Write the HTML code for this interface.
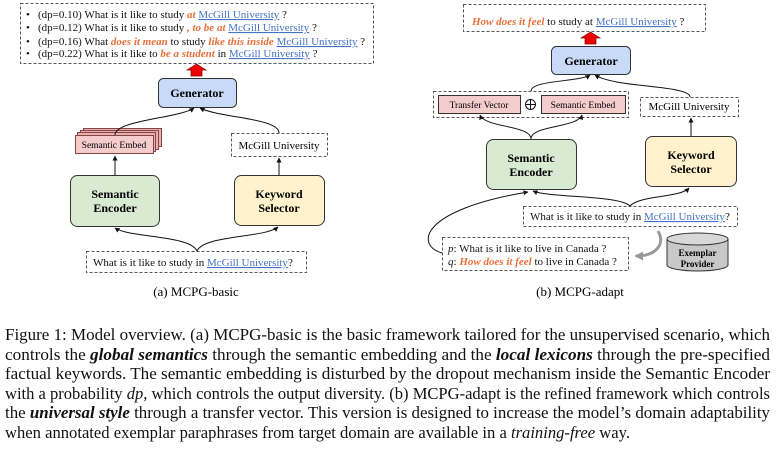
<!DOCTYPE html>
<html><head><meta charset="utf-8"><style>
html,body{margin:0;padding:0;background:#fff;}
svg{display:block;font-family:"Liberation Serif",serif;}
.b{font-weight:bold;}
.o{fill:#e8703a;font-weight:bold;font-style:italic;}
.u{fill:#4472c4;text-decoration:underline;}
</style></head><body>
<svg width="776" height="449" viewBox="0 0 776 449" xmlns="http://www.w3.org/2000/svg">
<defs>
<marker id="ah" viewBox="0 0 10 10" refX="9" refY="5" markerWidth="5" markerHeight="5" orient="auto-start-reverse"><path d="M0,0 L10,5 L0,10 z" fill="#111"/></marker>
<marker id="gh" viewBox="0 0 10 10" refX="8" refY="5" markerWidth="3" markerHeight="3" orient="auto"><path d="M0,0 L10,5 L0,10 z" fill="#999"/></marker>
</defs>
<g stroke="#555" stroke-dasharray="3,2" fill="none" stroke-width="1">
<rect x="20.5" y="3.5" width="353" height="60"/>
<rect x="231.5" y="133.5" width="96" height="23"/>
<rect x="86.5" y="251.5" width="220" height="21"/>
<rect x="463.5" y="4.5" width="242" height="27"/>
<rect x="433.5" y="91.5" width="195" height="26"/>
<rect x="640.5" y="97.5" width="98" height="19"/>
<rect x="523.5" y="206.5" width="214" height="20"/>
<rect x="442.5" y="237.5" width="186" height="33"/>
</g>
<g font-size="11" fill="#111">
<text x="26" y="18">•</text><text x="26" y="31">•</text><text x="26" y="45">•</text><text x="26" y="57">•</text>
<text x="38" y="18">(dp=0.10) What is it like to study <tspan class="o">at</tspan> <tspan class="u">McGill University</tspan> ?</text>
<text x="38" y="31">(dp=0.12) What is it like to study <tspan class="o">, to be at</tspan> <tspan class="u">McGill University</tspan> ?</text>
<text x="38" y="45">(dp=0.16) What <tspan class="o">does it mean</tspan> to study <tspan class="o">like this inside</tspan> <tspan class="u">McGill University</tspan> ?</text>
<text x="38" y="57">(dp=0.22) What is it like to <tspan class="o">be a student</tspan> in <tspan class="u">McGill University</tspan> ?</text>
</g>
<path d="M191,76 L191,70 L187,70 L196.5,64 L206,70 L202,70 L202,76 z" fill="#e00" stroke="#800" stroke-width="0.7"/>
<path d="M585,44 L585,38 L581,38 L590.5,32 L600,38 L596,38 L596,44 z" fill="#e00" stroke="#800" stroke-width="0.7"/>
<rect x="158.5" y="78.5" width="78" height="29" rx="5" fill="#c9daf8" stroke="#333"/>
<text x="197" y="97" text-anchor="middle" font-size="12" class="b">Generator</text>
<rect x="83.5" y="128.5" width="78" height="18" fill="#e7b0b0" stroke="#844"/>
<rect x="80.5" y="130.5" width="78" height="19" fill="#e7b0b0" stroke="#844"/>
<rect x="77.5" y="132.5" width="78" height="19" fill="#e7b0b0" stroke="#844"/>
<rect x="75.5" y="135.5" width="78" height="18" fill="#f4cccc" stroke="#844"/>
<text x="114" y="148" text-anchor="middle" font-size="9.5">Semantic Embed</text>
<text x="279" y="149" text-anchor="middle" font-size="11">McGill University</text>
<rect x="70.5" y="175.5" width="89" height="51" rx="7" fill="#d9ead3" stroke="#333"/>
<text x="115" y="198" text-anchor="middle" font-size="12" class="b">Semantic</text>
<text x="115" y="212" text-anchor="middle" font-size="12" class="b">Encoder</text>
<rect x="234.5" y="175.5" width="90" height="50" rx="7" fill="#fff2cc" stroke="#333"/>
<text x="279" y="198" text-anchor="middle" font-size="12" class="b">Keyword</text>
<text x="279" y="212" text-anchor="middle" font-size="12" class="b">Selector</text>
<text x="93" y="266" font-size="11" fill="#111">What is it like to study in <tspan class="u">McGill University</tspan>?</text>
<text x="196" y="296" text-anchor="middle" font-size="13">(a)  MCPG-basic</text>
<g fill="none" stroke="#111" stroke-width="1">
<path d="M115,175 L115,156" marker-end="url(#ah)"/>
<path d="M279,175 L279,158" marker-end="url(#ah)"/>
<path d="M115,135 C115,120 180,118 194,108" marker-end="url(#ah)"/>
<path d="M279,133 C279,118 220,118 200,108" marker-end="url(#ah)"/>
<path d="M197,251 C190,235 130,238 115,228" marker-end="url(#ah)"/>
<path d="M197,251 C204,235 265,238 278,227" marker-end="url(#ah)"/>
</g>
<text x="472" y="25" font-size="11" fill="#111"><tspan class="o">How does it feel</tspan> to study at <tspan class="u">McGill University</tspan> ?</text>
<rect x="551.5" y="46.5" width="79" height="28" rx="5" fill="#c9daf8" stroke="#333"/>
<text x="591" y="65" text-anchor="middle" font-size="12" class="b">Generator</text>
<rect x="438.5" y="95.5" width="82" height="18" fill="#f4cccc" stroke="#333"/>
<text x="479" y="108" text-anchor="middle" font-size="9.5">Transfer Vector</text>
<circle cx="530.5" cy="104.5" r="5" fill="none" stroke="#111"/>
<path d="M525.5,104.5 H535.5 M530.5,99.5 V109.5" stroke="#111"/>
<rect x="541.5" y="95.5" width="84" height="18" fill="#f4cccc" stroke="#333"/>
<text x="583" y="108" text-anchor="middle" font-size="9.5">Semantic Embed</text>
<text x="689" y="110" text-anchor="middle" font-size="11">McGill University</text>
<rect x="486.5" y="139.5" width="90" height="50" rx="7" fill="#d9ead3" stroke="#333"/>
<text x="531" y="162" text-anchor="middle" font-size="12" class="b">Semantic</text>
<text x="531" y="176" text-anchor="middle" font-size="12" class="b">Encoder</text>
<rect x="645.5" y="136.5" width="91" height="50" rx="7" fill="#fff2cc" stroke="#333"/>
<text x="691" y="159" text-anchor="middle" font-size="12" class="b">Keyword</text>
<text x="691" y="173" text-anchor="middle" font-size="12" class="b">Selector</text>
<text x="530" y="220" font-size="11" fill="#111">What is it like to study in <tspan class="u">McGill University</tspan>?</text>
<text x="448" y="252" font-size="11" fill="#111"><tspan font-style="italic">p</tspan>: What is it like to live in Canada ?</text>
<text x="448" y="265" font-size="11" fill="#111"><tspan font-style="italic">q</tspan>: <tspan class="o">How does it feel</tspan> to live in Canada ?</text>
<path d="M667,239 L667,265 A30.5,6 0 0 0 728,265 L728,239" fill="#c8c8c8" stroke="#333"/>
<ellipse cx="697.5" cy="239" rx="30.5" ry="6" fill="#d8d8d8" stroke="#333"/>
<text x="697.5" y="256" text-anchor="middle" font-size="9" class="b">Exemplar</text>
<text x="697.5" y="267" text-anchor="middle" font-size="9" class="b">Provider</text>
<path d="M658,231 C666,245 655,256 636,256" fill="none" stroke="#999" stroke-width="3" marker-end="url(#gh)"/>
<text x="580" y="296" text-anchor="middle" font-size="13">(b)  MCPG-adapt</text>
<g fill="none" stroke="#111" stroke-width="1">
<path d="M531,91 C531,80 580,82 590,75" marker-end="url(#ah)"/>
<path d="M690,97 C690,85 615,88 595,75" marker-end="url(#ah)"/>
<path d="M531,139 C531,125 485,128 480,115" marker-end="url(#ah)"/>
<path d="M531,139 C531,125 578,128 582,115" marker-end="url(#ah)"/>
<path d="M691,136 L691,118" marker-end="url(#ah)"/>
<path d="M630,206 C620,195 550,198 533,191" marker-end="url(#ah)"/>
<path d="M630,206 C640,195 680,198 689,188" marker-end="url(#ah)"/>
<path d="M442,253 C415,245 420,210 528,192" marker-end="url(#ah)"/>
</g>
<g font-size="17" fill="#111">
<text x="5" y="340" textLength="765" lengthAdjust="spacingAndGlyphs">Figure 1: Model overview. (a) MCPG-basic is the basic framework tailored for the unsupervised scenario, which</text>
<text x="5" y="360" textLength="765" lengthAdjust="spacingAndGlyphs">controls the <tspan font-weight="bold" font-style="italic">global semantics</tspan> through the semantic embedding and the <tspan font-weight="bold" font-style="italic">local lexicons</tspan> through the pre-specified</text>
<text x="5" y="379" textLength="765" lengthAdjust="spacingAndGlyphs">factual keywords. The semantic embedding is disturbed by the dropout mechanism inside the Semantic Encoder</text>
<text x="5" y="399" textLength="765" lengthAdjust="spacingAndGlyphs">with a probability <tspan font-style="italic">dp</tspan>, which controls the output diversity. (b) MCPG-adapt is the refined framework which controls</text>
<text x="5" y="418" textLength="765" lengthAdjust="spacingAndGlyphs">the <tspan font-weight="bold" font-style="italic">universal style</tspan> through a transfer vector. This version is designed to increase the model’s domain adaptability</text>
<text x="5" y="438" textLength="625" lengthAdjust="spacingAndGlyphs">when annotated exemplar paraphrases from target domain are available in a <tspan font-style="italic">training-free</tspan> way.</text>
</g>
</svg>
</body></html>
